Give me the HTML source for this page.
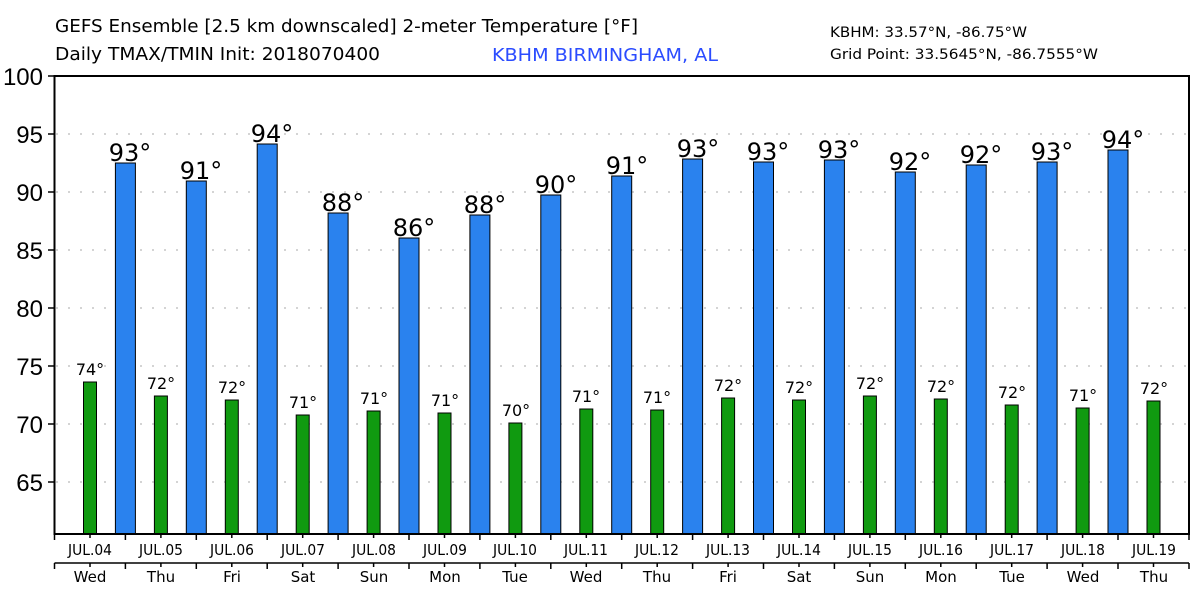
<!DOCTYPE html>
<html><head><meta charset="utf-8"><style>html,body{margin:0;padding:0;background:#fff}svg{display:block}</style></head><body>
<svg width="1200" height="600" xmlns="http://www.w3.org/2000/svg" font-family="DejaVu Sans, Liberation Sans, sans-serif">
<rect width="1200" height="600" fill="#fff"/>
<text x="55" y="32" font-size="18" textLength="583" lengthAdjust="spacingAndGlyphs">GEFS Ensemble [2.5 km downscaled] 2-meter Temperature [°F]</text>
<text x="55" y="60" font-size="18" textLength="325" lengthAdjust="spacingAndGlyphs">Daily TMAX/TMIN Init: 2018070400</text>
<text x="492" y="61" font-size="18" fill="#2b4cff" textLength="226" lengthAdjust="spacingAndGlyphs">KBHM BIRMINGHAM, AL</text>
<text x="830" y="37" font-size="14" textLength="197" lengthAdjust="spacingAndGlyphs">KBHM: 33.57°N, -86.75°W</text>
<text x="830" y="59" font-size="14" textLength="268" lengthAdjust="spacingAndGlyphs">Grid Point: 33.5645°N, -86.7555°W</text>
<g stroke="#aaa" stroke-width="1" stroke-dasharray="2,10">
<line x1="56" x2="1188" y1="134" y2="134"/><line x1="56" x2="1188" y1="192" y2="192"/><line x1="56" x2="1188" y1="250" y2="250"/><line x1="56" x2="1188" y1="308" y2="308"/><line x1="56" x2="1188" y1="366" y2="366"/><line x1="56" x2="1188" y1="424" y2="424"/><line x1="56" x2="1188" y1="482" y2="482"/>
</g>
<g font-family="Liberation Sans, sans-serif" font-size="24" text-anchor="end">
<text x="43" y="85">100</text><text x="43" y="143">95</text><text x="43" y="201">90</text><text x="43" y="259">85</text><text x="43" y="317">80</text><text x="43" y="375">75</text><text x="43" y="433">70</text><text x="43" y="491">65</text>
</g>
<g stroke="#000" stroke-width="1.5">
<line x1="48" x2="55" y1="76" y2="76"/><line x1="48" x2="55" y1="134" y2="134"/><line x1="48" x2="55" y1="192" y2="192"/><line x1="48" x2="55" y1="250" y2="250"/><line x1="48" x2="55" y1="308" y2="308"/><line x1="48" x2="55" y1="366" y2="366"/><line x1="48" x2="55" y1="424" y2="424"/><line x1="48" x2="55" y1="482" y2="482"/>
</g>
<g fill="#2a82ee" stroke="#000" stroke-width="1">
<rect x="115.4" y="163" width="20" height="371"/>
<rect x="186.3" y="181" width="20" height="353"/>
<rect x="257.2" y="144" width="20" height="390"/>
<rect x="328.1" y="213" width="20" height="321"/>
<rect x="399" y="238" width="20" height="296"/>
<rect x="469.9" y="215" width="20" height="319"/>
<rect x="540.8" y="195" width="20" height="339"/>
<rect x="611.7" y="176" width="20" height="358"/>
<rect x="682.6" y="159" width="20" height="375"/>
<rect x="753.5" y="162" width="20" height="372"/>
<rect x="824.4" y="160" width="20" height="374"/>
<rect x="895.3" y="172" width="20" height="362"/>
<rect x="966.2" y="165" width="20" height="369"/>
<rect x="1037.1" y="162" width="20" height="372"/>
<rect x="1108" y="150" width="20" height="384"/>
</g>
<g fill="#109a10" stroke="#000" stroke-width="1">
<rect x="83.5" y="382" width="13" height="152"/>
<rect x="154.4" y="396" width="13" height="138"/>
<rect x="225.3" y="400" width="13" height="134"/>
<rect x="296.2" y="415" width="13" height="119"/>
<rect x="367.1" y="411" width="13" height="123"/>
<rect x="438" y="413" width="13" height="121"/>
<rect x="508.9" y="423" width="13" height="111"/>
<rect x="579.8" y="409" width="13" height="125"/>
<rect x="650.7" y="410" width="13" height="124"/>
<rect x="721.6" y="398" width="13" height="136"/>
<rect x="792.5" y="400" width="13" height="134"/>
<rect x="863.4" y="396" width="13" height="138"/>
<rect x="934.3" y="399" width="13" height="135"/>
<rect x="1005.2" y="405" width="13" height="129"/>
<rect x="1076.1" y="408" width="13" height="126"/>
<rect x="1147" y="401" width="13" height="133"/>
</g>
<g font-size="24" text-anchor="middle">
<text x="130" y="161">93°</text><text x="201" y="179">91°</text><text x="272" y="142">94°</text><text x="343" y="211">88°</text><text x="414" y="236">86°</text><text x="485" y="213">88°</text><text x="556" y="193">90°</text><text x="627" y="174">91°</text><text x="698" y="157">93°</text><text x="768" y="160">93°</text><text x="839" y="158">93°</text><text x="910" y="170">92°</text><text x="981" y="163">92°</text><text x="1052" y="160">93°</text><text x="1123" y="148">94°</text>
</g>
<g font-size="16" text-anchor="middle">
<text x="90" y="375">74°</text><text x="161" y="389">72°</text><text x="232" y="393">72°</text><text x="303" y="408">71°</text><text x="374" y="404">71°</text><text x="445" y="406">71°</text><text x="516" y="416">70°</text><text x="586" y="402">71°</text><text x="657" y="403">71°</text><text x="728" y="391">72°</text><text x="799" y="393">72°</text><text x="870" y="389">72°</text><text x="941" y="392">72°</text><text x="1012" y="398">72°</text><text x="1083" y="401">71°</text><text x="1154" y="394">72°</text>
</g>
<rect x="54.5" y="76" width="1134.5" height="458" fill="none" stroke="#000" stroke-width="2"/>
<line x1="54.5" x2="1189" y1="563" y2="563" stroke="#000" stroke-width="1.5"/>
<g stroke="#000" stroke-width="1.5">
<path d="M54.5 534v6M125.4 534v6M196.3 534v6M267.2 534v6M338.1 534v6M409 534v6M479.9 534v6M550.8 534v6M621.7 534v6M692.6 534v6M763.5 534v6M834.4 534v6M905.3 534v6M976.2 534v6M1047.1 534v6M1118 534v6M1189 534v6"/>
<path d="M90 534v4M160.9 534v4M231.8 534v4M302.7 534v4M373.6 534v4M444.5 534v4M515.4 534v4M586.3 534v4M657.2 534v4M728.1 534v4M799 534v4M869.9 534v4M940.8 534v4M1011.7 534v4M1082.6 534v4M1153.5 534v4"/>
<path d="M54.5 563v6M125.4 563v6M196.3 563v6M267.2 563v6M338.1 563v6M409 563v6M479.9 563v6M550.8 563v6M621.7 563v6M692.6 563v6M763.5 563v6M834.4 563v6M905.3 563v6M976.2 563v6M1047.1 563v6M1118 563v6M1189 563v6"/>
<path d="M90 563v4M160.9 563v4M231.8 563v4M302.7 563v4M373.6 563v4M444.5 563v4M515.4 563v4M586.3 563v4M657.2 563v4M728.1 563v4M799 563v4M869.9 563v4M940.8 563v4M1011.7 563v4M1082.6 563v4M1153.5 563v4"/>
</g>
<g font-size="15" text-anchor="middle">
<text x="90" y="555" textLength="44" lengthAdjust="spacingAndGlyphs">JUL.04</text><text x="161" y="555" textLength="44" lengthAdjust="spacingAndGlyphs">JUL.05</text><text x="232" y="555" textLength="44" lengthAdjust="spacingAndGlyphs">JUL.06</text><text x="303" y="555" textLength="44" lengthAdjust="spacingAndGlyphs">JUL.07</text><text x="374" y="555" textLength="44" lengthAdjust="spacingAndGlyphs">JUL.08</text><text x="445" y="555" textLength="44" lengthAdjust="spacingAndGlyphs">JUL.09</text><text x="515" y="555" textLength="44" lengthAdjust="spacingAndGlyphs">JUL.10</text><text x="586" y="555" textLength="44" lengthAdjust="spacingAndGlyphs">JUL.11</text><text x="657" y="555" textLength="44" lengthAdjust="spacingAndGlyphs">JUL.12</text><text x="728" y="555" textLength="44" lengthAdjust="spacingAndGlyphs">JUL.13</text><text x="799" y="555" textLength="44" lengthAdjust="spacingAndGlyphs">JUL.14</text><text x="870" y="555" textLength="44" lengthAdjust="spacingAndGlyphs">JUL.15</text><text x="941" y="555" textLength="44" lengthAdjust="spacingAndGlyphs">JUL.16</text><text x="1012" y="555" textLength="44" lengthAdjust="spacingAndGlyphs">JUL.17</text><text x="1083" y="555" textLength="44" lengthAdjust="spacingAndGlyphs">JUL.18</text><text x="1154" y="555" textLength="44" lengthAdjust="spacingAndGlyphs">JUL.19</text>
<text x="90" y="582">Wed</text><text x="161" y="582">Thu</text><text x="232" y="582">Fri</text><text x="303" y="582">Sat</text><text x="374" y="582">Sun</text><text x="445" y="582">Mon</text><text x="515" y="582">Tue</text><text x="586" y="582">Wed</text><text x="657" y="582">Thu</text><text x="728" y="582">Fri</text><text x="799" y="582">Sat</text><text x="870" y="582">Sun</text><text x="941" y="582">Mon</text><text x="1012" y="582">Tue</text><text x="1083" y="582">Wed</text><text x="1154" y="582">Thu</text>
</g>
</svg>
</body></html>
